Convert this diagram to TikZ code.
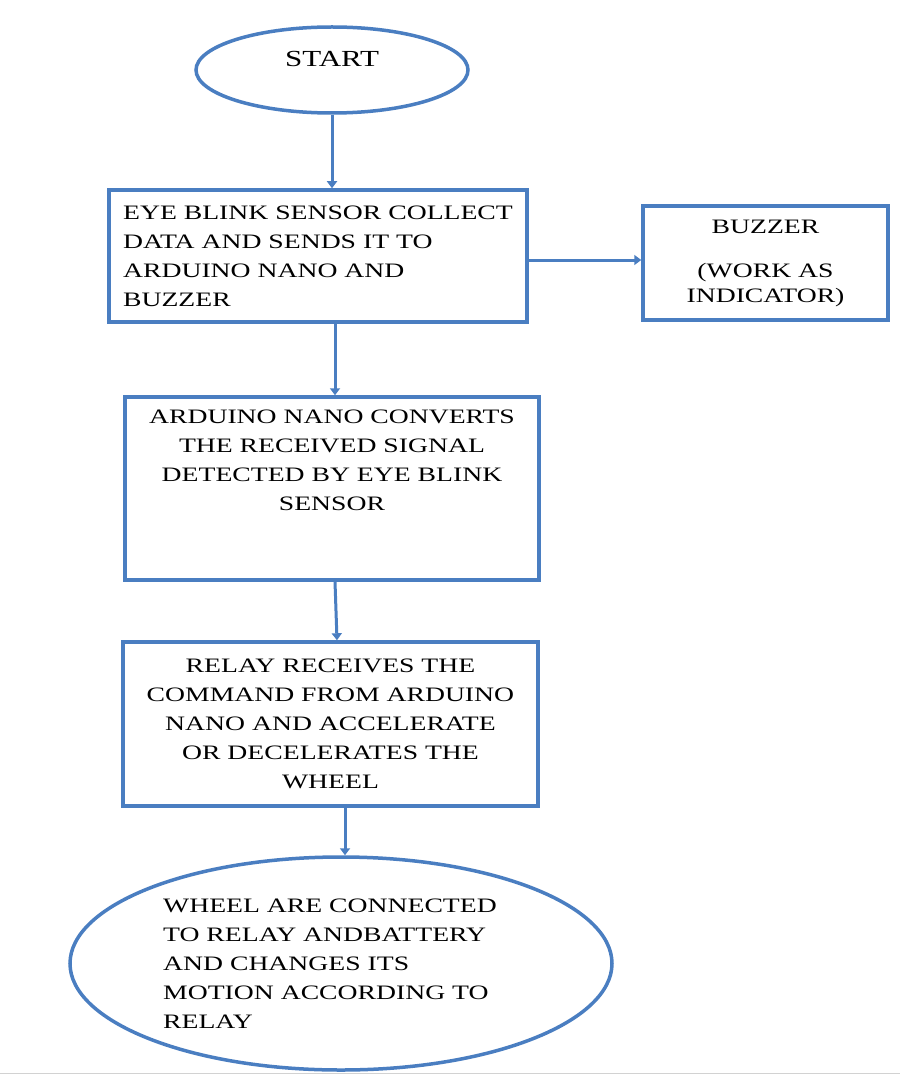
\documentclass[tikz,border=0pt]{standalone}
\usepackage{fontspec}
\setmainfont{Liberation Serif}[FakeStretch=1.35]
\usetikzlibrary{shapes.geometric,arrows.meta}
\definecolor{flowblue}{RGB}{74,126,193}
\begin{document}
\begin{tikzpicture}[x=1pt,y=-1pt,
  txt/.style={font=\fontsize{20.5}{29}\selectfont, text=black},
  box/.style={draw=flowblue, line width=3.5pt, rectangle, inner sep=0pt, txt},
  oval/.style={draw=flowblue, line width=3.5pt, ellipse, inner sep=0pt},
  arr/.style={draw=flowblue, line width=3pt, -{Triangle[width=10pt,length=7pt]}}]
\useasboundingbox[fill=white] (0,0) rectangle (900,1075);
\draw[gray!35, line width=1.5pt] (0,1073.5) -- (900,1073.5);

\node[oval, minimum width=272pt, minimum height=86pt,
  label={[txt, font=\fontsize{23}{29}\selectfont, yshift=11pt]center:START}] (start) at (332,70) {};

\node[box, minimum width=418pt, minimum height=132pt, align=left] (sense) at (318,256)
  {EYE BLINK SENSOR COLLECT\\DATA AND SENDS IT TO\\ARDUINO NANO AND\\BUZZER};

\node[box, minimum width=245pt, minimum height=114pt, align=center] (buzz) at (765.5,263)
  {BUZZER\\[15pt](WORK AS\\[-4pt]INDICATOR)};

\node[box, minimum width=414pt, minimum height=183pt,
  label={[txt, align=center, yshift=28pt]center:ARDUINO NANO CONVERTS\\THE RECEIVED SIGNAL\\DETECTED BY EYE BLINK\\SENSOR}] (nano) at (332,488.5) {};

\node[box, minimum width=415pt, minimum height=164pt, align=center] (relay) at (330.5,724)
  {RELAY RECEIVES THE\\COMMAND FROM ARDUINO\\NANO AND ACCELERATE\\OR DECELERATES THE\\WHEEL};

\node[oval, minimum width=542pt, minimum height=213pt,
  label={[txt, align=left, xshift=-11pt]center:WHEEL ARE CONNECTED\\TO RELAY ANDBATTERY\\AND CHANGES ITS\\MOTION ACCORDING TO\\RELAY}] (wheel) at (341,963.5) {};

\coordinate (a1) at ([xshift=3pt]nano.north);
\coordinate (a2) at ([xshift=4pt]wheel.north);
\draw[arr] (start.south) -- (start.south |- sense.north);
\draw[arr] ([yshift=-4pt]sense.east) -- ([yshift=-4pt]sense.east -| buzz.west);
\draw[arr] (a1 |- sense.south) -- (a1);
\draw[arr] ([xshift=3pt]nano.south) -- ([xshift=6.5pt]relay.north);
\draw[arr] (a2 |- relay.south) -- (a2);
\end{tikzpicture}
\end{document}
